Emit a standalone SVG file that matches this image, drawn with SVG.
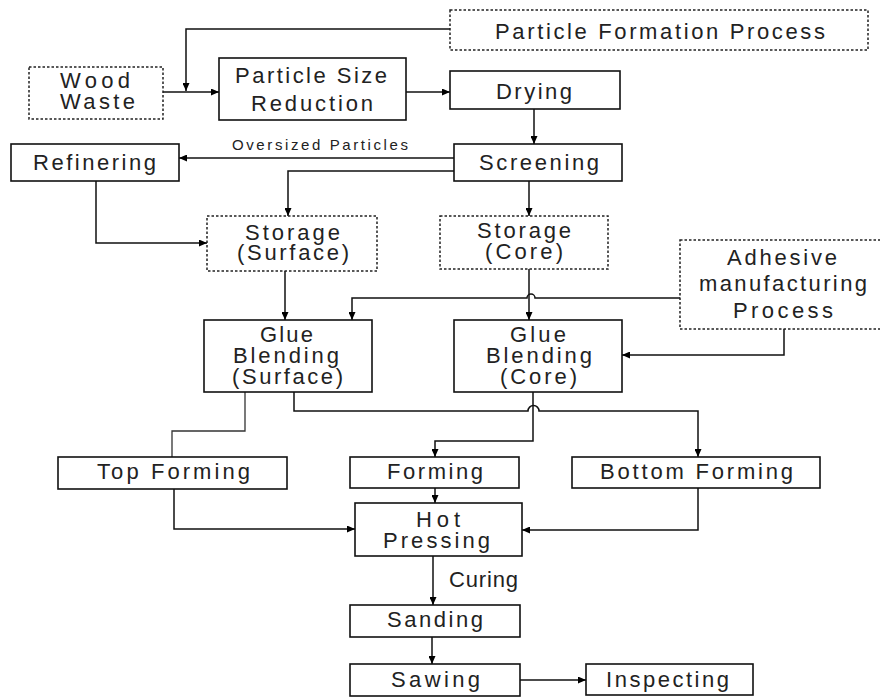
<svg xmlns="http://www.w3.org/2000/svg" width="880" height="698" viewBox="0 0 880 698">
<defs>
<marker id="ah" markerWidth="8" markerHeight="7" refX="8" refY="3.5" orient="auto" markerUnits="userSpaceOnUse">
<path d="M0,0 L8,3.5 L0,7 z" fill="#000"/>
</marker>
<style>
.box{fill:#fff;stroke:#111;stroke-width:1.6}
.dot{fill:#fff;stroke:#222;stroke-width:1.5;stroke-dasharray:2.5,2}
.t{font-family:"Liberation Sans",Arial,sans-serif;font-size:22px;fill:#222}
.s{font-family:"Liberation Sans",Arial,sans-serif;font-size:15px;fill:#222}
.c{fill:none;stroke:#333;stroke-width:1.3}
.ca{fill:none;stroke:#111;stroke-width:1.5;marker-end:url(#ah)}
</style>
</defs>
<rect width="880" height="698" fill="#fff"/>
<g id="connectors">
<path class="ca" d="M450,29 H186 V91"/>
<path class="ca" d="M163,92 H219"/>
<path class="ca" d="M406,92 H450"/>
<path class="ca" d="M534,109 V144"/>
<path class="ca" d="M454,158 H179"/>
<path class="ca" d="M454,171 H288 V216"/>
<path class="ca" d="M96,181 V243 H207"/>
<path class="ca" d="M529,181 V216"/>
<path class="ca" d="M285,271 V320"/>
<path class="ca" d="M529,269 V320"/>
<path class="ca" d="M680,298 H535 a4,4 0 0 0 -8,0 H352 V320"/>
<path class="ca" d="M784,329 V355 H622"/>
<path class="c" d="M245,392 V431 H172 V457"/>
<path class="ca" d="M294,392 V411 H528 a5.5,5.5 0 0 1 11,0 H698 V457"/>
<path class="ca" d="M533,392 V441 H435 V457"/>
<path class="ca" d="M435,488 V503"/>
<path class="ca" d="M174,489 V529 H355"/>
<path class="ca" d="M698,488 V530 H522"/>
<path class="ca" d="M433,556 V605"/>
<path class="ca" d="M432,637 V664"/>
<path class="ca" d="M520,680 H586"/>
<text class="s" x="232" y="150" textLength="176" lengthAdjust="spacing">Oversized Particles</text>
<text class="t" x="449" y="587" font-size="18" textLength="69" lengthAdjust="spacing">Curing</text>
</g>
<g id="particle-formation">
<rect class="dot" x="450" y="10" width="418" height="40"/>
<text class="t" x="495" y="39" font-size="23" textLength="330" lengthAdjust="spacing">Particle Formation Process</text>
</g>
<g id="wood-waste">
<rect class="dot" x="29" y="67" width="134" height="52"/>
<text class="t" x="60" y="88" textLength="70" lengthAdjust="spacing">Wood</text>
<text class="t" x="60" y="109" textLength="75" lengthAdjust="spacing">Waste</text>
</g>
<g id="psr">
<rect class="box" x="219" y="58" width="187" height="62"/>
<text class="t" x="235" y="83" textLength="152" lengthAdjust="spacing">Particle Size</text>
<text class="t" x="251" y="111" textLength="122" lengthAdjust="spacing">Reduction</text>
</g>
<g id="drying">
<rect class="box" x="450" y="71" width="170" height="38"/>
<text class="t" x="496" y="99" textLength="76" lengthAdjust="spacing">Drying</text>
</g>
<g id="screening">
<rect class="box" x="454" y="144" width="168" height="37"/>
<text class="t" x="479" y="170" textLength="120" lengthAdjust="spacing">Screening</text>
</g>
<g id="refinering">
<rect class="box" x="11" y="144" width="168" height="37"/>
<text class="t" x="33" y="170" textLength="123" lengthAdjust="spacing">Refinering</text>
</g>
<g id="storage-surface">
<rect class="dot" x="207" y="216" width="170" height="55"/>
<text class="t" x="245" y="240" textLength="95" lengthAdjust="spacing">Storage</text>
<text class="t" x="237" y="260" textLength="112" lengthAdjust="spacing">(Surface)</text>
</g>
<g id="storage-core">
<rect class="dot" x="440" y="216" width="168" height="53"/>
<text class="t" x="477" y="238" textLength="94" lengthAdjust="spacing">Storage</text>
<text class="t" x="485" y="259" textLength="78" lengthAdjust="spacing">(Core)</text>
</g>
<g id="adhesive">
<rect class="dot" x="680" y="240" width="220" height="89"/>
<text class="t" x="727" y="265" textLength="110" lengthAdjust="spacing">Adhesive</text>
<text class="t" x="699" y="291" textLength="168" lengthAdjust="spacing">manufacturing</text>
<text class="t" x="733" y="318" textLength="100" lengthAdjust="spacing">Process</text>
</g>
<g id="glue-surface">
<rect class="box" x="204" y="320" width="168" height="72"/>
<text class="t" x="260" y="342" textLength="53" lengthAdjust="spacing">Glue</text>
<text class="t" x="233" y="363" textLength="106" lengthAdjust="spacing">Blending</text>
<text class="t" x="232" y="384" textLength="111" lengthAdjust="spacing">(Surface)</text>
</g>
<g id="glue-core">
<rect class="box" x="454" y="320" width="168" height="72"/>
<text class="t" x="510" y="342" textLength="56" lengthAdjust="spacing">Glue</text>
<text class="t" x="486" y="363" textLength="106" lengthAdjust="spacing">Blending</text>
<text class="t" x="500" y="384" textLength="77" lengthAdjust="spacing">(Core)</text>
</g>
<g id="top-forming">
<rect class="box" x="58" y="457" width="229" height="32"/>
<text class="t" x="97" y="479" textLength="153" lengthAdjust="spacing">Top Forming</text>
</g>
<g id="forming">
<rect class="box" x="350" y="457" width="169" height="31"/>
<text class="t" x="387" y="479" textLength="96" lengthAdjust="spacing">Forming</text>
</g>
<g id="bottom-forming">
<rect class="box" x="572" y="457" width="248" height="31"/>
<text class="t" x="600" y="479" textLength="193" lengthAdjust="spacing">Bottom Forming</text>
</g>
<g id="hot-pressing">
<rect class="box" x="355" y="503" width="167" height="53"/>
<text class="t" x="416" y="527" textLength="44" lengthAdjust="spacing">Hot</text>
<text class="t" x="383" y="548" textLength="107" lengthAdjust="spacing">Pressing</text>
</g>
<g id="sanding">
<rect class="box" x="350" y="605" width="170" height="32"/>
<text class="t" x="387" y="627" textLength="96" lengthAdjust="spacing">Sanding</text>
</g>
<g id="sawing">
<rect class="box" x="350" y="664" width="170" height="32"/>
<text class="t" x="391" y="687" textLength="89" lengthAdjust="spacing">Sawing</text>
</g>
<g id="inspecting">
<rect class="box" x="586" y="664" width="167" height="31"/>
<text class="t" x="606" y="687" textLength="123" lengthAdjust="spacing">Inspecting</text>
</g>
</svg>
